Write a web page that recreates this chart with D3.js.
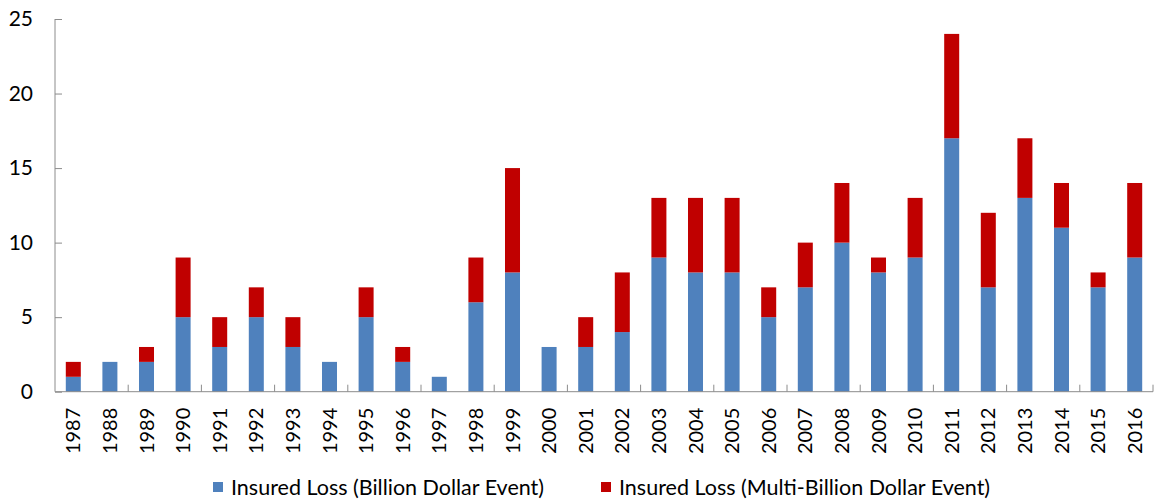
<!DOCTYPE html>
<html>
<head>
 <title>Insured losses</title>
 <script src="https://cdn.jsdelivr.net/npm/d3@7"></script>
 <style>
  body { margin: 0; background: #fff; }
  text { font-family: Lato, "Open Sans", sans-serif; fill: #000; }
 </style>
</head>
<body>
 <div id="chart"></div>
 <script type="text/javascript">

 var years = ["1987","1988","1989","1990","1991","1992","1993","1994","1995","1996",
              "1997","1998","1999","2000","2001","2002","2003","2004","2005","2006",
              "2007","2008","2009","2010","2011","2012","2013","2014","2015","2016"];
 var billion = [1,2,2,5,3,5,3,2,5,2, 1,6,8,3,3,4,9,8,8,5, 7,10,8,9,17,7,13,11,7,9];
 var multiBillion = [1,0,1,4,2,2,2,0,2,1, 0,3,7,0,2,4,4,5,5,2, 3,4,1,4,7,5,4,3,1,5];
 var yTicks = [0,5,10,15,20,25];
 var seriesNames = ["Insured Loss (Billion Dollar Event)", "Insured Loss (Multi-Billion Dollar Event)"];
 var colors = ["#4F81BD", "#C00000"];

 var width = 1157, height = 501;
 var plotLeft = 55, plotRight = 1153, plotTop = 19, plotBottom = 391.7;

 var svg = d3.select("#chart").append("svg")
   .attr("width", width).attr("height", height);

 var x = d3.scaleBand().domain(years).range([plotLeft, plotRight]).paddingInner(0.59).paddingOuter(0.295);
 var y = d3.scaleLinear().domain([0, 25]).range([plotBottom, plotTop]);

 var rows = years.map(function(d, i) {
   return {year: d, billion: billion[i], multi: multiBillion[i]};
 });
 var stacked = d3.stack().keys(["billion", "multi"])(rows);

 // bars
 svg.selectAll("g.series")
   .data(stacked)
   .enter().append("g")
   .attr("class", "series")
   .attr("fill", function(d, i) { return colors[i]; })
   .selectAll("rect")
   .data(function(d) { return d.filter(function(p) { return p[1] > p[0]; }); })
   .enter().append("rect")
   .attr("x", function(d) { return x(d.data.year); })
   .attr("width", x.bandwidth())
   .attr("y", function(d) { return y(d[1]); })
   .attr("height", function(d) { return y(d[0]) - y(d[1]); });

 // y axis
 var yAxis = svg.append("g")
   .attr("transform", "translate(" + plotLeft + ",0)")
   .call(d3.axisRight(y).tickValues(yTicks).tickSize(7).tickFormat(d3.format("d")));
 yAxis.selectAll("line, path").attr("stroke", "#8c8c8c");
 yAxis.select(".domain").attr("d", "M0," + plotTop + "V" + plotBottom);
 yAxis.selectAll("text")
   .attr("x", -22).attr("text-anchor", "end")
   .style("font-size", "21px").style("font-family", "Lato, sans-serif");

 // x axis line and ticks every two categories
 svg.append("line")
   .attr("x1", plotLeft).attr("x2", plotRight)
   .attr("y1", plotBottom).attr("y2", plotBottom)
   .attr("stroke", "#8c8c8c");
 var step = x.step();
 var tickPos = d3.range(2, years.length + 1, 2).map(function(i) { return plotLeft + i * step; });
 svg.selectAll("line.xtick")
   .data(tickPos)
   .enter().append("line")
   .attr("class", "xtick")
   .attr("x1", function(d) { return d; }).attr("x2", function(d) { return d; })
   .attr("y1", plotBottom).attr("y2", plotBottom - 7)
   .attr("stroke", "#8c8c8c");

 // x labels, rotated
 svg.selectAll("text.xlab")
   .data(years)
   .enter().append("text")
   .attr("class", "xlab")
   .attr("transform", function(d) {
     return "translate(" + (x(d) + x.bandwidth() / 2 + 7) + "," + (plotBottom + 16) + ") rotate(-90)";
   })
   .attr("text-anchor", "end")
   .style("font-size", "20px")
   .text(function(d) { return d; });

 // legend
 var legendX = [213, 601];
 var legend = svg.selectAll("g.legend")
   .data(seriesNames)
   .enter().append("g")
   .attr("class", "legend")
   .attr("transform", function(d, i) { return "translate(" + legendX[i] + ",482)"; });
 legend.append("rect")
   .attr("width", 10).attr("height", 10)
   .attr("fill", function(d, i) { return colors[i]; });
 legend.append("text")
   .attr("x", 18).attr("y", 13)
   .style("font-size", "21.5px")
   .text(function(d) { return d; });

 </script>
</body>
</html>
